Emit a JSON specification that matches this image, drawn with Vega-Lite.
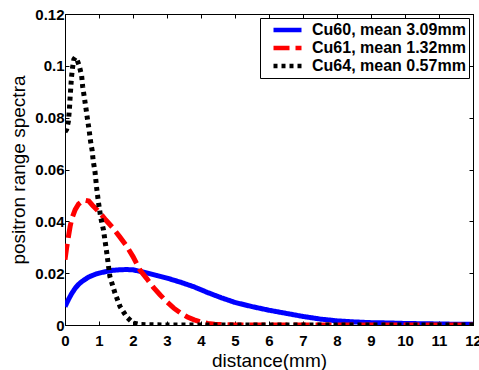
{
  "$schema": "https://vega.github.io/schema/vega-lite/v6.json",
  "width": 408,
  "height": 311,
  "autosize": {"type": "none"},
  "padding": {"left": 65, "top": 14, "right": 6, "bottom": 45},
  "background": "white",
  "config": {
    "view": {"stroke": "black", "strokeWidth": 1},
    "axis": {
      "domainColor": "black", "tickColor": "black", "tickSize": -4, "tickWidth": 1,
      "grid": false, "labelFlush": false, "labelFont": "Liberation Sans", "labelFontWeight": "bold",
      "labelFontSize": 15, "labelColor": "black", "titleFont": "Liberation Sans", "titleFontWeight": "normal",
      "titleFontSize": 19, "titleColor": "black"
    },
    "legend": {
      "orient": "top-right", "offset": 4, "symbolType": "stroke", "symbolSize": 784, "symbolStrokeWidth": 4.5,
      "labelFont": "Liberation Sans", "labelFontWeight": "bold", "labelFontSize": 16, "labelColor": "black",
      "strokeColor": "black", "fillColor": "white", "padding": 3, "clipHeight": 18, "rowPadding": 0,
      "symbolOffset": 8, "labelOffset": 8
    }
  },
  "data": {"values": [
    {"s": "Cu60, mean 3.09mm", "x": 0, "y": 0.0071},
    {"s": "Cu60, mean 3.09mm", "x": 0.1, "y": 0.0098},
    {"s": "Cu60, mean 3.09mm", "x": 0.2, "y": 0.0122},
    {"s": "Cu60, mean 3.09mm", "x": 0.3, "y": 0.0142},
    {"s": "Cu60, mean 3.09mm", "x": 0.4, "y": 0.0157},
    {"s": "Cu60, mean 3.09mm", "x": 0.5, "y": 0.0168},
    {"s": "Cu60, mean 3.09mm", "x": 0.6, "y": 0.0177},
    {"s": "Cu60, mean 3.09mm", "x": 0.7, "y": 0.0185},
    {"s": "Cu60, mean 3.09mm", "x": 0.8, "y": 0.0191},
    {"s": "Cu60, mean 3.09mm", "x": 0.9, "y": 0.0196},
    {"s": "Cu60, mean 3.09mm", "x": 1.0, "y": 0.0200},
    {"s": "Cu60, mean 3.09mm", "x": 1.2, "y": 0.0206},
    {"s": "Cu60, mean 3.09mm", "x": 1.4, "y": 0.0211},
    {"s": "Cu60, mean 3.09mm", "x": 1.6, "y": 0.0213},
    {"s": "Cu60, mean 3.09mm", "x": 1.8, "y": 0.0214},
    {"s": "Cu60, mean 3.09mm", "x": 2.0, "y": 0.0213},
    {"s": "Cu60, mean 3.09mm", "x": 2.2, "y": 0.0207},
    {"s": "Cu60, mean 3.09mm", "x": 2.4, "y": 0.0201},
    {"s": "Cu60, mean 3.09mm", "x": 2.7, "y": 0.0191},
    {"s": "Cu60, mean 3.09mm", "x": 3.0, "y": 0.0181},
    {"s": "Cu60, mean 3.09mm", "x": 3.4, "y": 0.0165},
    {"s": "Cu60, mean 3.09mm", "x": 3.8, "y": 0.0147},
    {"s": "Cu60, mean 3.09mm", "x": 4.2, "y": 0.0125},
    {"s": "Cu60, mean 3.09mm", "x": 4.6, "y": 0.0105},
    {"s": "Cu60, mean 3.09mm", "x": 5.0, "y": 0.0087},
    {"s": "Cu60, mean 3.09mm", "x": 5.5, "y": 0.0071},
    {"s": "Cu60, mean 3.09mm", "x": 6.0, "y": 0.0057},
    {"s": "Cu60, mean 3.09mm", "x": 6.5, "y": 0.0045},
    {"s": "Cu60, mean 3.09mm", "x": 7.0, "y": 0.0033},
    {"s": "Cu60, mean 3.09mm", "x": 7.5, "y": 0.0023},
    {"s": "Cu60, mean 3.09mm", "x": 8.0, "y": 0.0016},
    {"s": "Cu60, mean 3.09mm", "x": 8.5, "y": 0.0012},
    {"s": "Cu60, mean 3.09mm", "x": 9.0, "y": 0.0009},
    {"s": "Cu60, mean 3.09mm", "x": 9.5, "y": 0.0008},
    {"s": "Cu60, mean 3.09mm", "x": 10.0, "y": 0.0006},
    {"s": "Cu60, mean 3.09mm", "x": 10.5, "y": 0.0005},
    {"s": "Cu60, mean 3.09mm", "x": 11.0, "y": 0.0004},
    {"s": "Cu60, mean 3.09mm", "x": 11.5, "y": 0.0003},
    {"s": "Cu60, mean 3.09mm", "x": 12.0, "y": 0.0003},
    {"s": "Cu61, mean 1.32mm", "x": 0, "y": 0.0252},
    {"s": "Cu61, mean 1.32mm", "x": 0.05, "y": 0.030},
    {"s": "Cu61, mean 1.32mm", "x": 0.1, "y": 0.034},
    {"s": "Cu61, mean 1.32mm", "x": 0.15, "y": 0.038},
    {"s": "Cu61, mean 1.32mm", "x": 0.2, "y": 0.041},
    {"s": "Cu61, mean 1.32mm", "x": 0.3, "y": 0.0445},
    {"s": "Cu61, mean 1.32mm", "x": 0.4, "y": 0.0467},
    {"s": "Cu61, mean 1.32mm", "x": 0.5, "y": 0.0477},
    {"s": "Cu61, mean 1.32mm", "x": 0.6, "y": 0.0481},
    {"s": "Cu61, mean 1.32mm", "x": 0.7, "y": 0.0478},
    {"s": "Cu61, mean 1.32mm", "x": 0.8, "y": 0.0463},
    {"s": "Cu61, mean 1.32mm", "x": 1.0, "y": 0.0437},
    {"s": "Cu61, mean 1.32mm", "x": 1.2, "y": 0.0405},
    {"s": "Cu61, mean 1.32mm", "x": 1.4, "y": 0.0376},
    {"s": "Cu61, mean 1.32mm", "x": 1.6, "y": 0.0342},
    {"s": "Cu61, mean 1.32mm", "x": 1.8, "y": 0.0307},
    {"s": "Cu61, mean 1.32mm", "x": 2.0, "y": 0.0264},
    {"s": "Cu61, mean 1.32mm", "x": 2.2, "y": 0.0213},
    {"s": "Cu61, mean 1.32mm", "x": 2.4, "y": 0.0180},
    {"s": "Cu61, mean 1.32mm", "x": 2.6, "y": 0.0145},
    {"s": "Cu61, mean 1.32mm", "x": 2.8, "y": 0.0116},
    {"s": "Cu61, mean 1.32mm", "x": 3.0, "y": 0.0089},
    {"s": "Cu61, mean 1.32mm", "x": 3.2, "y": 0.0065},
    {"s": "Cu61, mean 1.32mm", "x": 3.4, "y": 0.0046},
    {"s": "Cu61, mean 1.32mm", "x": 3.6, "y": 0.0031},
    {"s": "Cu61, mean 1.32mm", "x": 3.8, "y": 0.0020},
    {"s": "Cu61, mean 1.32mm", "x": 4.0, "y": 0.0012},
    {"s": "Cu61, mean 1.32mm", "x": 4.2, "y": 0.0006},
    {"s": "Cu61, mean 1.32mm", "x": 4.4, "y": 0.0003},
    {"s": "Cu61, mean 1.32mm", "x": 4.7, "y": 0.0001},
    {"s": "Cu61, mean 1.32mm", "x": 5, "y": 0},
    {"s": "Cu61, mean 1.32mm", "x": 6, "y": 0},
    {"s": "Cu61, mean 1.32mm", "x": 7, "y": 0},
    {"s": "Cu61, mean 1.32mm", "x": 8, "y": 0},
    {"s": "Cu61, mean 1.32mm", "x": 9, "y": 0},
    {"s": "Cu61, mean 1.32mm", "x": 10, "y": 0},
    {"s": "Cu61, mean 1.32mm", "x": 11, "y": 0},
    {"s": "Cu61, mean 1.32mm", "x": 12, "y": 0},
    {"s": "Cu64, mean 0.57mm", "x": 0, "y": 0.0745},
    {"s": "Cu64, mean 0.57mm", "x": 0.05, "y": 0.0755},
    {"s": "Cu64, mean 0.57mm", "x": 0.1, "y": 0.0786},
    {"s": "Cu64, mean 0.57mm", "x": 0.13, "y": 0.0833},
    {"s": "Cu64, mean 0.57mm", "x": 0.15, "y": 0.0877},
    {"s": "Cu64, mean 0.57mm", "x": 0.17, "y": 0.0916},
    {"s": "Cu64, mean 0.57mm", "x": 0.19, "y": 0.0955},
    {"s": "Cu64, mean 0.57mm", "x": 0.22, "y": 0.0991},
    {"s": "Cu64, mean 0.57mm", "x": 0.26, "y": 0.1025},
    {"s": "Cu64, mean 0.57mm", "x": 0.3, "y": 0.1033},
    {"s": "Cu64, mean 0.57mm", "x": 0.35, "y": 0.1025},
    {"s": "Cu64, mean 0.57mm", "x": 0.42, "y": 0.1},
    {"s": "Cu64, mean 0.57mm", "x": 0.49, "y": 0.0961},
    {"s": "Cu64, mean 0.57mm", "x": 0.52, "y": 0.092},
    {"s": "Cu64, mean 0.57mm", "x": 0.57, "y": 0.0877},
    {"s": "Cu64, mean 0.57mm", "x": 0.62, "y": 0.0833},
    {"s": "Cu64, mean 0.57mm", "x": 0.66, "y": 0.0795},
    {"s": "Cu64, mean 0.57mm", "x": 0.71, "y": 0.0752},
    {"s": "Cu64, mean 0.57mm", "x": 0.75, "y": 0.071},
    {"s": "Cu64, mean 0.57mm", "x": 0.8, "y": 0.0672},
    {"s": "Cu64, mean 0.57mm", "x": 0.83, "y": 0.0633},
    {"s": "Cu64, mean 0.57mm", "x": 0.88, "y": 0.0594},
    {"s": "Cu64, mean 0.57mm", "x": 0.93, "y": 0.053},
    {"s": "Cu64, mean 0.57mm", "x": 0.98, "y": 0.0477},
    {"s": "Cu64, mean 0.57mm", "x": 1.05, "y": 0.0415},
    {"s": "Cu64, mean 0.57mm", "x": 1.13, "y": 0.0368},
    {"s": "Cu64, mean 0.57mm", "x": 1.23, "y": 0.0277},
    {"s": "Cu64, mean 0.57mm", "x": 1.32, "y": 0.0187},
    {"s": "Cu64, mean 0.57mm", "x": 1.47, "y": 0.0123},
    {"s": "Cu64, mean 0.57mm", "x": 1.62, "y": 0.0071},
    {"s": "Cu64, mean 0.57mm", "x": 1.81, "y": 0.0032},
    {"s": "Cu64, mean 0.57mm", "x": 2.0, "y": 0.0008},
    {"s": "Cu64, mean 0.57mm", "x": 2.2, "y": 0.0002},
    {"s": "Cu64, mean 0.57mm", "x": 2.5, "y": 0.0001},
    {"s": "Cu64, mean 0.57mm", "x": 3, "y": 0},
    {"s": "Cu64, mean 0.57mm", "x": 4, "y": 0},
    {"s": "Cu64, mean 0.57mm", "x": 5, "y": 0},
    {"s": "Cu64, mean 0.57mm", "x": 6, "y": 0},
    {"s": "Cu64, mean 0.57mm", "x": 7, "y": 0},
    {"s": "Cu64, mean 0.57mm", "x": 8, "y": 0},
    {"s": "Cu64, mean 0.57mm", "x": 9, "y": 0},
    {"s": "Cu64, mean 0.57mm", "x": 10, "y": 0},
    {"s": "Cu64, mean 0.57mm", "x": 11, "y": 0},
    {"s": "Cu64, mean 0.57mm", "x": 12, "y": 0}
  ]},
  "layer": [
    {
      "mark": {"type": "line", "strokeWidth": 5, "strokeCap": "butt", "clip": true},
      "encoding": {
        "x": {"field": "x", "type": "quantitative", "scale": {"domain": [0, 12], "nice": false},
          "axis": {"orient": "bottom", "title": "distance(mm)", "values": [0,1,2,3,4,5,6,7,8,9,10,11,12], "labelPadding": 12, "titlePadding": 3}},
        "y": {"field": "y", "type": "quantitative", "scale": {"domain": [0, 0.12], "nice": false},
          "axis": {"orient": "left", "title": "positron range spectra", "values": [0,0.02,0.04,0.06,0.08,0.1,0.12], "format": ".2~f", "labelPadding": 5, "titlePadding": 6}},
        "color": {"field": "s", "type": "nominal", "title": null,
          "scale": {"domain": ["Cu60, mean 3.09mm", "Cu61, mean 1.32mm", "Cu64, mean 0.57mm"], "range": ["#0000ff", "#ff0000", "#000000"]}},
        "strokeDash": {"field": "s", "type": "nominal", "title": null,
          "scale": {"domain": ["Cu60, mean 3.09mm", "Cu61, mean 1.32mm", "Cu64, mean 0.57mm"], "range": [[1, 0], [16, 6], [4, 4]]}}
      }
    },
    {
      "mark": {"type": "line", "strokeOpacity": 0},
      "encoding": {
        "x": {"field": "x", "type": "quantitative",
          "axis": {"orient": "top", "title": null, "labels": false, "values": [0,1,2,3,4,5,6,7,8,9,10,11,12]}},
        "y": {"field": "y", "type": "quantitative",
          "axis": {"orient": "right", "title": null, "labels": false, "values": [0,0.02,0.04,0.06,0.08,0.1,0.12]}},
        "detail": {"field": "s"}
      }
    }
  ],
  "resolve": {"axis": {"x": "independent", "y": "independent"}}
}
